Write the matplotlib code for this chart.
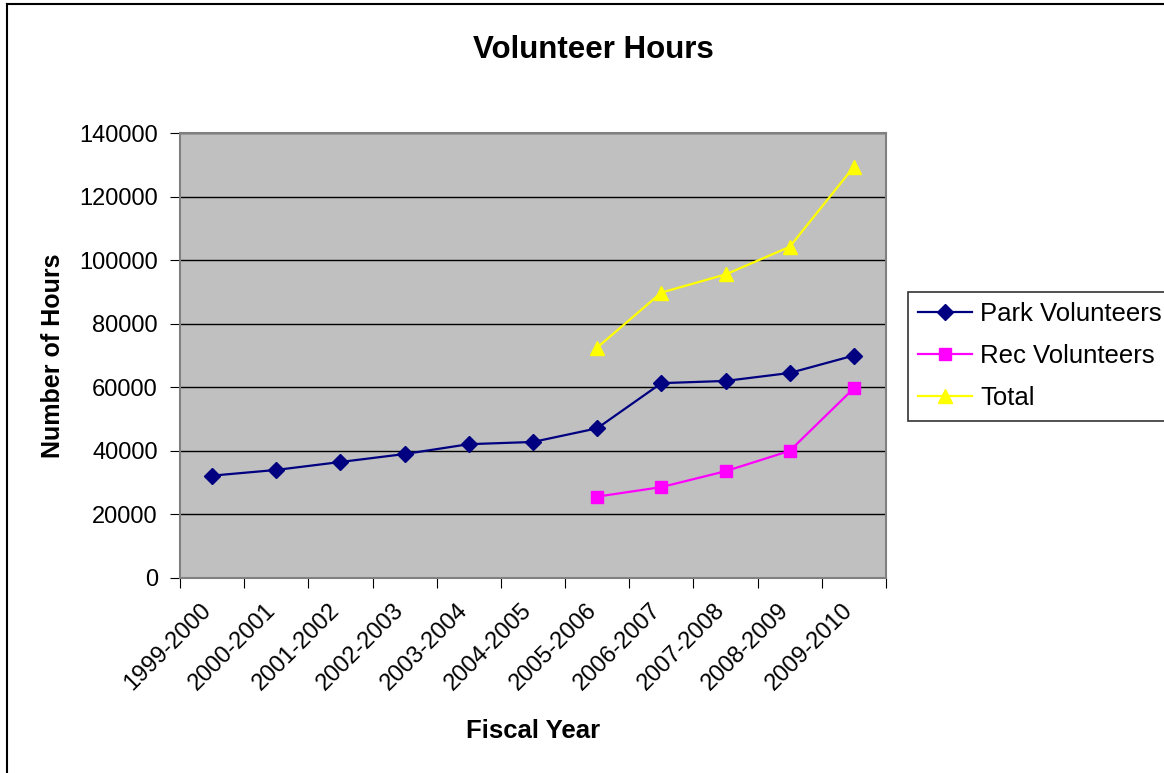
import matplotlib
matplotlib.use('Agg')
import matplotlib.pyplot as plt
import matplotlib.transforms as mtransforms
from matplotlib.lines import Line2D

plt.rcParams['font.family'] = ['Liberation Sans', 'DejaVu Sans']

years = ['1999-2000', '2000-2001', '2001-2002', '2002-2003', '2003-2004',
         '2004-2005', '2005-2006', '2006-2007', '2007-2008', '2008-2009',
         '2009-2010']
park = [32200, 34000, 36500, 39000, 42100, 42800, 47100, 61300, 62000, 64500, 70000]
rec_years = years[6:]
rec = [25600, 28600, 33600, 40000, 59700]
total = [72500, 89800, 95500, 104200, 129400]

fig = plt.figure(figsize=(11.64, 7.73), dpi=100)
ax = fig.add_axes([180/1164, 1 - 578/773, 706/1164, 445/773])
ax.set_facecolor('#C0C0C0')

xpos = {y: i + 0.5 for i, y in enumerate(years)}
ax.plot([xpos[y] for y in years], park, color='#000080', marker='D', ms=8,
        lw=1.6, label='Park Volunteers', zorder=3)
ax.plot([xpos[y] for y in rec_years], rec, color='#FF00FF', marker='s', ms=8,
        lw=1.6, label='Rec Volunteers', zorder=3)
ax.plot([xpos[y] for y in rec_years], total, color='#FFFF00', marker='^', ms=10,
        lw=1.6, label='Total', zorder=3)

ax.set_xlim(0, len(years))
ax.set_ylim(0, 140000)
ax.set_yticks(range(0, 140001, 20000))
ax.set_yticklabels([str(v) for v in range(0, 140001, 20000)], fontsize=17)
ax.set_xticks(range(0, len(years) + 1))
ax.set_xticklabels([])
ax.set_xticks([xpos[y] for y in years], minor=True)
ax.set_xticklabels(years, minor=True, rotation=45, ha='right', va='top',
                   rotation_mode='anchor', fontsize=17)
ax.tick_params(axis='x', which='minor', length=0, pad=15)
ax.tick_params(axis='x', which='major', length=7, color='black')
ax.tick_params(axis='y', length=7, pad=9)
shift = mtransforms.ScaledTranslation(-12/100, 0, fig.dpi_scale_trans)
for lbl in ax.xaxis.get_minorticklabels():
    lbl.set_transform(lbl.get_transform() + shift)
ax.grid(axis='y', color='black', lw=1.0)
ax.set_axisbelow(True)
for s in ['left', 'bottom', 'top', 'right']:
    ax.spines[s].set_color('#808080')
    ax.spines[s].set_linewidth(1.5)

ax.set_xlabel('Fiscal Year', fontsize=18.5, fontweight='bold', labelpad=18)
ax.set_ylabel('Number of Hours', fontsize=18, fontweight='bold', labelpad=10)
fig.text(593/1164, 1 - 50/773, 'Volunteer Hours', fontsize=22.5,
         fontweight='bold', ha='center', va='center')

leg = ax.legend(loc='upper left', bbox_to_anchor=(908/1164, 1 - 292/773),
                bbox_transform=fig.transFigure, fontsize=18.5, frameon=True,
                fancybox=False, edgecolor='black', borderaxespad=0,
                handlelength=2.1, labelspacing=0.7, borderpad=0.4,
                handletextpad=0.3)
leg.get_frame().set_linewidth(1.2)

fig.add_artist(Line2D([7/1164, 7/1164], [0, 1 - 4/773], color='black', lw=1.5,
                      transform=fig.transFigure))
fig.add_artist(Line2D([7/1164, 1], [1 - 4/773, 1 - 4/773], color='black', lw=1.5,
                      transform=fig.transFigure))

fig.savefig('out.png', dpi=100)
